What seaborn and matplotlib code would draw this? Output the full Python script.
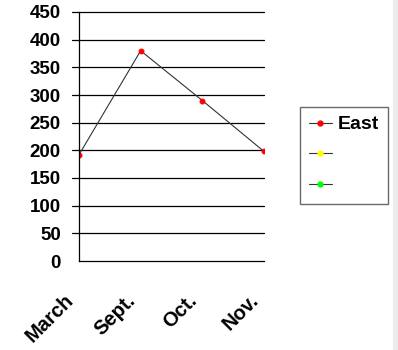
import matplotlib
matplotlib.use("Agg")
import matplotlib.pyplot as plt
import matplotlib.transforms as mtransforms
import seaborn as sns
import pandas as pd
from matplotlib.lines import Line2D
from matplotlib.patches import Rectangle

months = ["March", "Sept.", "Oct.", "Nov."]
east = [192, 380, 290, 198]
series_names = ["East", "", ""]
marker_colors = ["#ff0000", "#ffff00", "#00ff00"]
yticks = list(range(0, 451, 50))

sns.set_theme(style="white")
plt.rcParams['font.family'] = ['Liberation Sans', 'DejaVu Sans']
plt.rcParams['text.color'] = 'black'
plt.rcParams['xtick.color'] = 'black'
plt.rcParams['ytick.color'] = 'black'

FSY = 13.5
FSX = 14.5
FSL = 14

fig = plt.figure(figsize=(3.98, 3.5), dpi=100)
ax = fig.add_axes([79/398, 1-261/350, (264-79)/398, (261-12)/350])

df = pd.DataFrame({"month": months, "value": east, "x": range(len(months))})
sns.lineplot(data=df, x="x", y="value", ax=ax, color="#333333", linewidth=0.8,
             marker="o", markersize=3.5, markerfacecolor=marker_colors[0],
             markeredgecolor=marker_colors[0], sort=False, legend=False)

ax.set_xlim(0, len(months) - 1)
ax.set_ylim(0, 450)
ax.set_yticks(yticks)
ax.set_xticks(range(len(months)))
ax.set_xticklabels(months, rotation=45, ha="right", rotation_mode="anchor",
                   fontsize=FSX, fontweight="bold")
ax.set_yticklabels([str(t) for t in yticks], fontsize=FSY, fontweight="bold")
ax.set_xlabel("")
ax.set_ylabel("")
for yv in yticks[1:]:
    ax.axhline(yv, color="black", linewidth=0.9, xmin=-0.038, xmax=1.0, clip_on=False, zorder=0)
for s in ["top", "right"]:
    ax.spines[s].set_visible(False)
for s in ["left", "bottom"]:
    ax.spines[s].set_color("black")
    ax.spines[s].set_linewidth(0.9)
ax.tick_params(axis="y", direction="out", length=5, width=0.9, color="black", pad=8)
ax.tick_params(axis="x", direction="out", length=3, width=0.9, color="black", pad=12)

offset = mtransforms.ScaledTranslation(-0.15, -0.09, fig.dpi_scale_trans)
for lbl in ax.get_xticklabels():
    lbl.set_transform(lbl.get_transform() + offset)

handles = [Line2D([0], [0], color="#333333", linewidth=0.8, marker="o", markersize=3.5,
                  markerfacecolor=c, markeredgecolor=c) for c in marker_colors]
leg = fig.legend(handles, series_names, loc="upper left",
                 bbox_to_anchor=(300/398, 1-107/350), bbox_transform=fig.transFigure,
                 frameon=True, fancybox=False, handlelength=1.2, handletextpad=0.3,
                 labelspacing=0.68, borderpad=0.45, borderaxespad=0,
                 prop={"weight": "bold", "size": FSL})
leg.get_frame().set_edgecolor("#444444")
leg.get_frame().set_linewidth(1.0)

fig.patches.append(Rectangle((393/398, 0), 5/398, 1, transform=fig.transFigure,
                             facecolor="#ececec", edgecolor="none", zorder=-1))

fig.savefig("out.png", dpi=100)
